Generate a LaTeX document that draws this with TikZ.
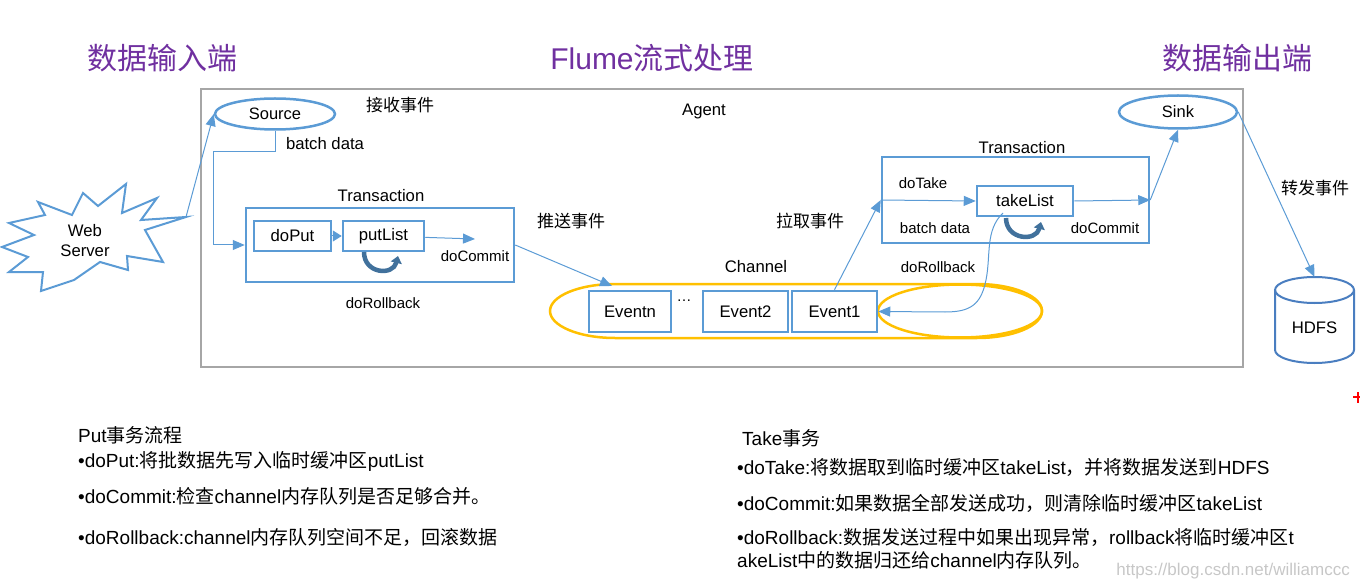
\documentclass[tikz,border=0pt]{standalone}
\usepackage{fontspec}
\setmainfont{Liberation Sans}
\newfontfamily\cjk{Noto Sans CJK SC}
\newcommand\zh[1]{{\cjk #1}}
\usetikzlibrary{arrows.meta,shapes.geometric}
\definecolor{boxblue}{HTML}{5B9BD5}
\definecolor{darkblue}{HTML}{41719C}
\definecolor{agentgray}{HTML}{A6A6A6}
\definecolor{chanorange}{HTML}{FFC000}
\definecolor{titlepurple}{HTML}{7030A0}
\definecolor{hdfsblue}{HTML}{4A7EC0}
\begin{document}
\begin{tikzpicture}[x=1pt,y=-1pt,
  box/.style={draw=boxblue,line width=2.5pt,inner sep=0pt,font=\fontsize{16.7}{19}\selectfont},
  oval/.style={ellipse,draw=boxblue,line width=2.5pt,inner sep=0pt,font=\fontsize{16.5}{19}\selectfont},
  lbl/.style={inner sep=0pt,font=\fontsize{15}{18}\selectfont},
  biglbl/.style={inner sep=0pt,font=\fontsize{16.7}{19}\selectfont},
  zlbl/.style={inner sep=0pt,font=\cjk\fontsize{17}{20}\selectfont},
  titletext/.style={inner sep=0pt,text=titlepurple,font=\cjk\fontsize{30}{34}\selectfont},
  note/.style={inner sep=0pt,anchor=west,font=\fontsize{19}{22}\selectfont},
  arr/.style={draw=boxblue,line width=1pt,-{Triangle[length=12pt,width=10pt]}},
  loopar/.style={draw=darkblue,line width=4.5pt,-{Triangle[length=7pt,width=11pt]}},
]
\useasboundingbox (0,0) rectangle (1360,588);

% titles
\node[titletext] (tin) at (162,58) {数据输入端};
\node[titletext] (tflume) at (652,58) {{\rmfamily Flume}流式处理};
\node[titletext] (tout) at (1237,58) {数据输出端};

% agent
\node[draw=agentgray,line width=2.5pt,minimum width=1042pt,minimum height=278pt,inner sep=0pt] (agent) at (722,228) {};
\node[biglbl] (agentlbl) at (704,111) {Agent};

% web server
\draw[boxblue,line width=2pt,line join=miter]
  (126,184) -- (122,213) -- (157,198) -- (141,220) -- (186,217) -- (145,230) -- (163,262)
  -- (127,256) -- (128,270) -- (100,262) -- (74,280) -- (41,291) -- (43,272) -- (9,272)
  -- (28,257) -- (2,247) -- (34,235) -- (9,223) -- (45,215) -- (38,202) -- (72,215)
  -- (83,193) -- (98,206) -- cycle;
\node[biglbl,align=center] (web) at (85,241) {Web\\[1pt]Server};
\coordinate (webtip) at (186,217);

% source / sink
\node[oval,minimum width=120pt,minimum height=31pt] (src) at (275,114) {Source};
\node[oval,minimum width=118pt,minimum height=33pt] (sink) at (1178,112) {Sink};
\node[zlbl] (recv) at (400,105) {接收事件};
\node[biglbl] (bd1) at (325,144) {batch data};

% left transaction
\node[box,minimum width=268pt,minimum height=74pt] (tl) at (380,245) {};
\node[biglbl] (tltitle) at (381,196) {Transaction};
\node[box,minimum width=77pt,minimum height=30pt] (doput) at (292.5,236) {doPut};
\node[box,minimum width=81pt,minimum height=30pt] (putlist) at (383.5,236) {putList};
\draw[draw=boxblue,line width=1pt,-{Triangle[length=9pt,width=11pt]}] (doput) -- (putlist);
\coordinate (pc) at (475,239);
\draw[arr] (putlist) -- (pc);
\node[lbl] (dc1) at (475,256) {doCommit};
\node[lbl] (dr1) at (383,303) {doRollback};
\draw[loopar] (364,252) .. controls (364,274) and (393,276) .. (398,256);

\draw[arr] (webtip) -- (src.west);
\coordinate (corner) at (213,152);
\draw[arr] (src.south) |- (corner) |- (tl.west);

% channel
\draw[chanorange,line width=2.5pt] (615,284) -- (977,284)
  arc[start angle=270,end angle=450,x radius=65,y radius=27] -- (615,338)
  arc[start angle=90,end angle=270,x radius=65,y radius=27] -- cycle;
\draw[chanorange,line width=2.5pt] (960,311) ellipse[x radius=82,y radius=26.5];
\node[biglbl] (chlbl) at (756,267) {Channel};
\node[box,minimum width=82pt,minimum height=41pt] (en) at (630,311.5) {Eventn};
\node[box,minimum width=85pt,minimum height=41pt] (e2) at (745.5,311.5) {Event2};
\node[box,minimum width=85pt,minimum height=41pt] (e1) at (834.5,311.5) {Event1};
\node[lbl,anchor=base] (dots) at (684,301) {…};
\coordinate (chtop) at (612,286);
\draw[arr] (tl.east) -- (chtop);
\node[zlbl] (push) at (571,221) {推送事件};
\node[zlbl] (pull) at (810,221) {拉取事件};

% right transaction
\node[box,minimum width=267pt,minimum height=86pt] (tr) at (1015.5,200) {};
\node[biglbl] (trtitle) at (1022,148) {Transaction};
\node[box,minimum width=96pt,minimum height=30pt] (take) at (1025,201) {takeList};
\node[lbl] (dotake) at (923,183) {doTake};
\node[lbl] (bd2) at (935,228) {batch data};
\node[lbl] (dc2) at (1105,228) {doCommit};
\node[lbl] (dr2) at (938,267) {doRollback};
\draw[arr] (e1.north) -- (tr.west);
\draw[arr] (tr.west) -- (take.west);
\draw[arr] (take.east) -- (tr.east);
\draw[arr] (tr.east) -- (sink.south);
\draw[loopar] (1006,218) .. controls (1006,240) and (1036,242) .. (1041,222);
\coordinate (rbstart) at (1003,213);
\draw[arr] (rbstart) .. controls (985,230) and (991,255) .. (986,280)
  .. controls (981,305) and (970,312) .. (945,312) -- (e1.east);

% HDFS
\draw[hdfsblue,line width=2pt] (1314.5,290) ellipse[x radius=39.5,y radius=13];
\draw[hdfsblue,line width=2pt] (1275,290) -- (1275,350)
  arc[start angle=180,end angle=0,x radius=39.5,y radius=13] -- (1354,290);
\node[biglbl] (hdfs) at (1314.5,328) {HDFS};
\coordinate (hdfstop) at (1314.5,277);
\draw[arr] (sink.east) -- (hdfstop);
\node[zlbl] (fwd) at (1315,188) {转发事件};

% notes
\node[note] (n1) at (78,435) {Put\zh{事务流程}};
\node[note] (n2) at (78,461) {•doPut:\zh{将批数据先写入临时缓冲区}putList};
\node[note] (n3) at (78,496) {•doCommit:\zh{检查}channel\zh{内存队列是否足够合并。}};
\node[note] (n4) at (78,537) {•doRollback:channel\zh{内存队列空间不足，回滚数据}};
\node[note] (m1) at (742,438) {Take\zh{事务}};
\node[note] (m2) at (737,467) {•doTake:\zh{将数据取到临时缓冲区}takeList\zh{，并将数据发送到}HDFS};
\node[note] (m3) at (737,503) {•doCommit:\zh{如果数据全部发送成功，则清除临时缓冲区}takeList};
\node[note] (m4) at (737,537) {•doRollback:\zh{数据发送过程中如果出现异常，}rollback\zh{将临时缓冲区}t};
\node[note] (m5) at (737,560) {akeList\zh{中的数据归还给}channel\zh{内存队列。}};
\node[inner sep=0pt,anchor=east,text=black!22,font=\fontsize{17}{20}\selectfont] (wm) at (1350,571) {https://blog.csdn.net/williamccc};

% red mark at edge
\draw[red,line width=2pt] (1353,397) -- (1360,397) (1358,392) -- (1358,403);
\end{tikzpicture}
\end{document}
